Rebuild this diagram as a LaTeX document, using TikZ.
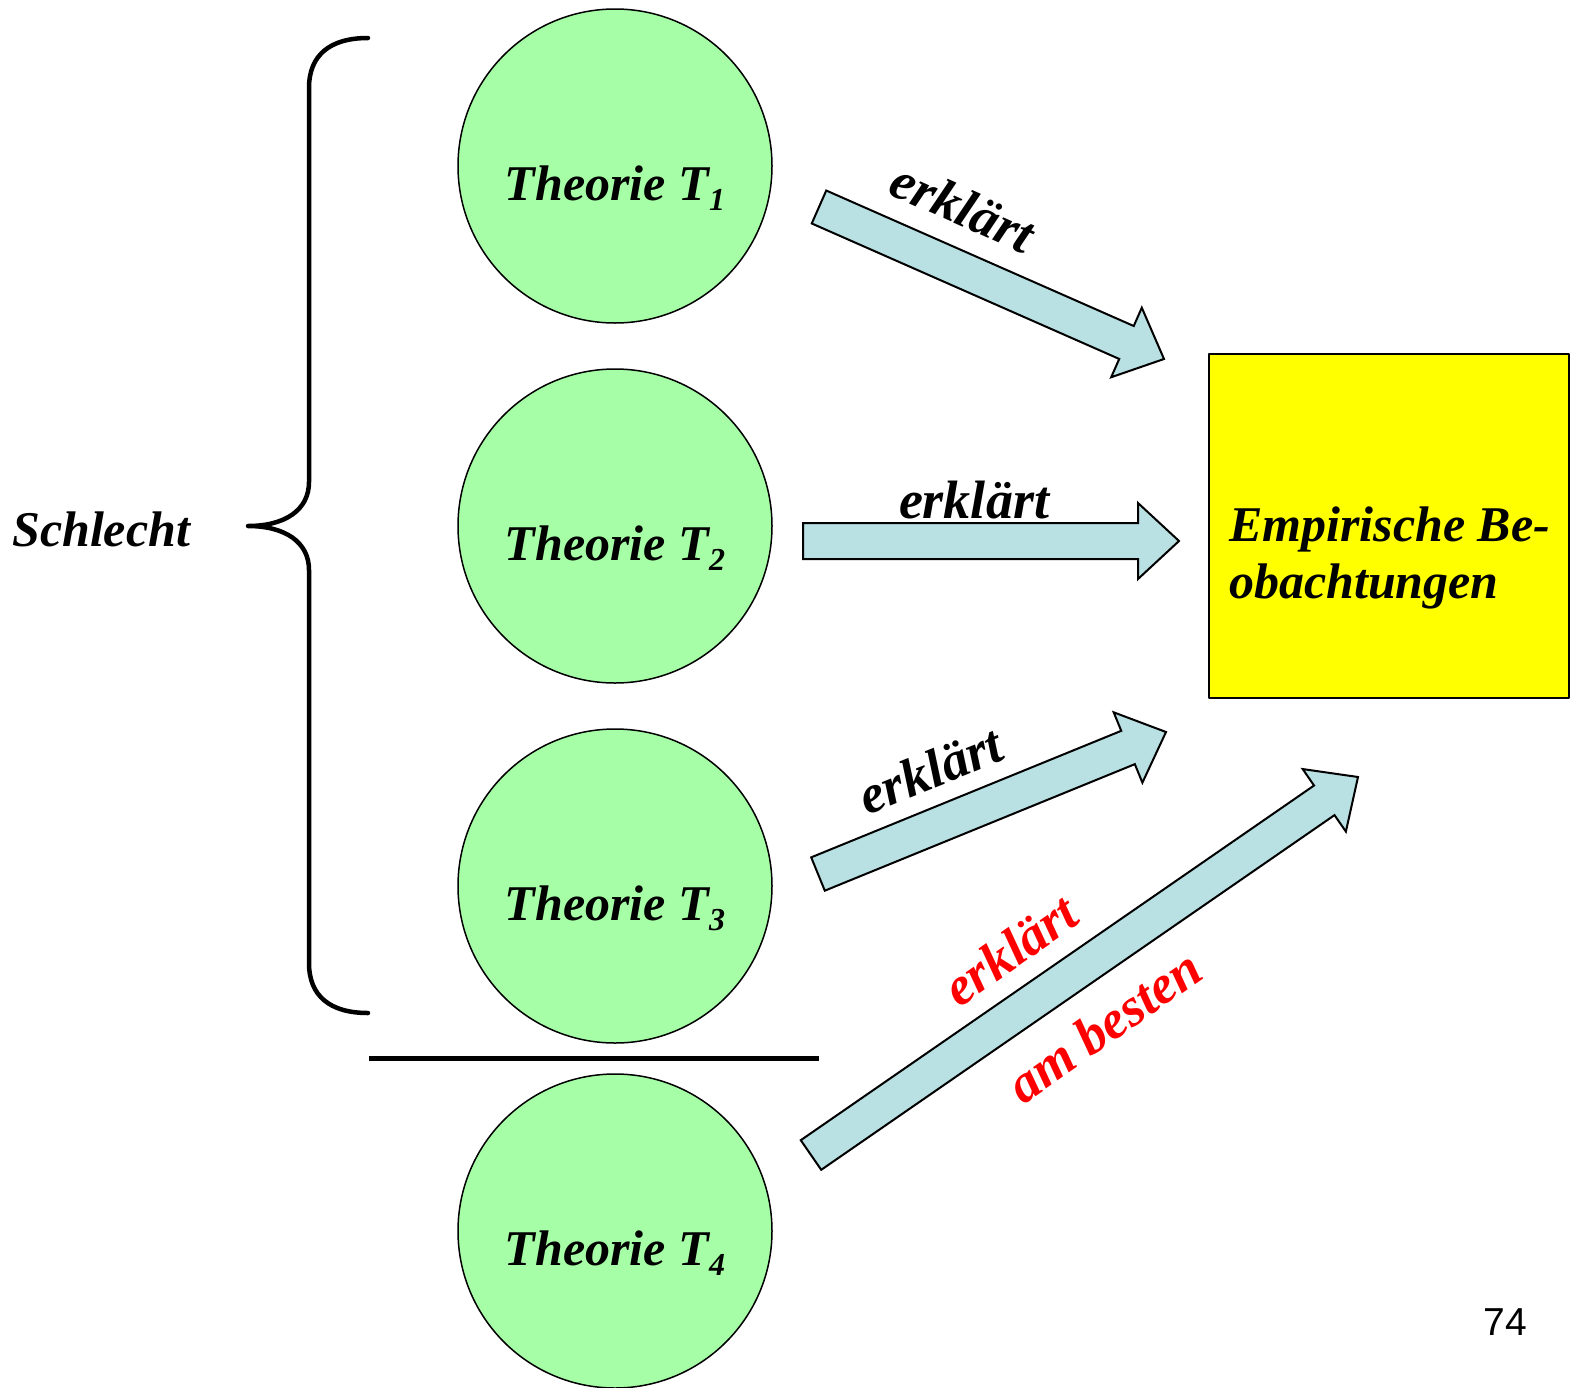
\documentclass[tikz,border=0pt]{standalone}
\usepackage{fontspec}
\setmainfont{Liberation Serif}
\newfontfamily\pagenumfont{Liberation Sans}
\usepackage{tikz}
\usetikzlibrary{calc}
\usetikzlibrary{positioning}

\definecolor{theogreen}{RGB}{166,255,166}
\definecolor{arrowblue}{RGB}{185,224,227}
\definecolor{obsyellow}{RGB}{255,255,0}

\newcommand{\bigfont}{\fontsize{50}{57}\selectfont\bfseries\itshape}
\newcommand{\tsub}[1]{\raisebox{-10pt}{\fontsize{32}{32}\selectfont #1}}
\newcommand{\fatarrow}[2]{%
\coordinate (hb) at ($(#2)!41pt!(#1)$);
\draw[fatbody] ($(#1)!18pt!90:(#2)$) -- ($(hb)!18pt!-90:(#1)$) -- ($(hb)!38pt!-90:(#1)$) -- (#2) -- ($(hb)!38pt!90:(#1)$) -- ($(hb)!18pt!90:(#1)$) -- ($(#1)!18pt!-90:(#2)$) -- cycle;}

\tikzset{
theory/.style={circle,draw,line width=1.5pt,fill=theogreen,minimum size=314pt,inner sep=0pt,font=\bigfont,text height=68pt,text depth=0pt},
fatbody/.style={draw,line width=2pt,fill=arrowblue,line join=miter},
arrowlabel/.style={font=\fontsize{54}{60}\selectfont\bfseries\itshape,inner sep=0pt},
}

\begin{document}
\begin{tikzpicture}[x=1pt,y=-1pt,line cap=round,line join=round]
\useasboundingbox (0,0) rectangle (1577,1387);
\node[theory] (t1) at (615,166) {Theorie T\tsub{1}};
\node[theory] (t2) at (615,526) {Theorie T\tsub{2}};
\node[theory] (t3) at (615,886) {Theorie T\tsub{3}};
\node[theory] (t4) at (615,1231) {Theorie T\tsub{4}};
\node[draw,line width=2.5pt,fill=obsyellow,minimum width=360pt,minimum height=344pt,inner sep=0pt] (obs) at (1389,526) {};
\node[anchor=north west,align=left,font=\bigfont,inner sep=0pt] (obstext) at (1229,507) {Empirische Be-\\obachtungen};
\node[anchor=base west,font=\bigfont,inner sep=0pt] (schlecht) at (12,546) {Schlecht};
\node[anchor=base east,font=\pagenumfont\fontsize{39}{39}\selectfont,inner sep=0pt] (pnum) at (1527,1335) {74};
\draw[line width=4.5pt] (368,38) .. controls (330,38) and (309,55) .. (309,88) -- (309,482) .. controls (309,510) and (285,526) .. (248,526) .. controls (285,526) and (309,542) .. (309,570) -- (309,963) .. controls (309,996) and (330,1013) .. (368,1013);
\draw[line width=5pt,line cap=butt] (369,1058) -- (819,1058);
\coordinate (a1s) at (819,207);
\coordinate (a1e) at (1164,359);
\coordinate (a2s) at (803,541);
\coordinate (a2e) at (1179,541);
\coordinate (a3s) at (818,874);
\coordinate (a3e) at (1166,732);
\coordinate (a4s) at (811,1155);
\coordinate (a4e) at (1358,777);
\fatarrow{a1s}{a1e}
\fatarrow{a2s}{a2e}
\fatarrow{a3s}{a3e}
\fatarrow{a4s}{a4e}
\node[arrowlabel,rotate=-24] (l1) at (963,207) {erklärt};
\node[arrowlabel] (l2) at (974,500) {erklärt};
\node[arrowlabel,rotate=22] (l3) at (930,770) {erklärt};
\node[arrowlabel,rotate=35,text=red] (l4) at (1010,950) {erklärt};
\node[arrowlabel,rotate=35,text=red] (l5) at (1104,1026) {am besten};
\end{tikzpicture}
\end{document}
